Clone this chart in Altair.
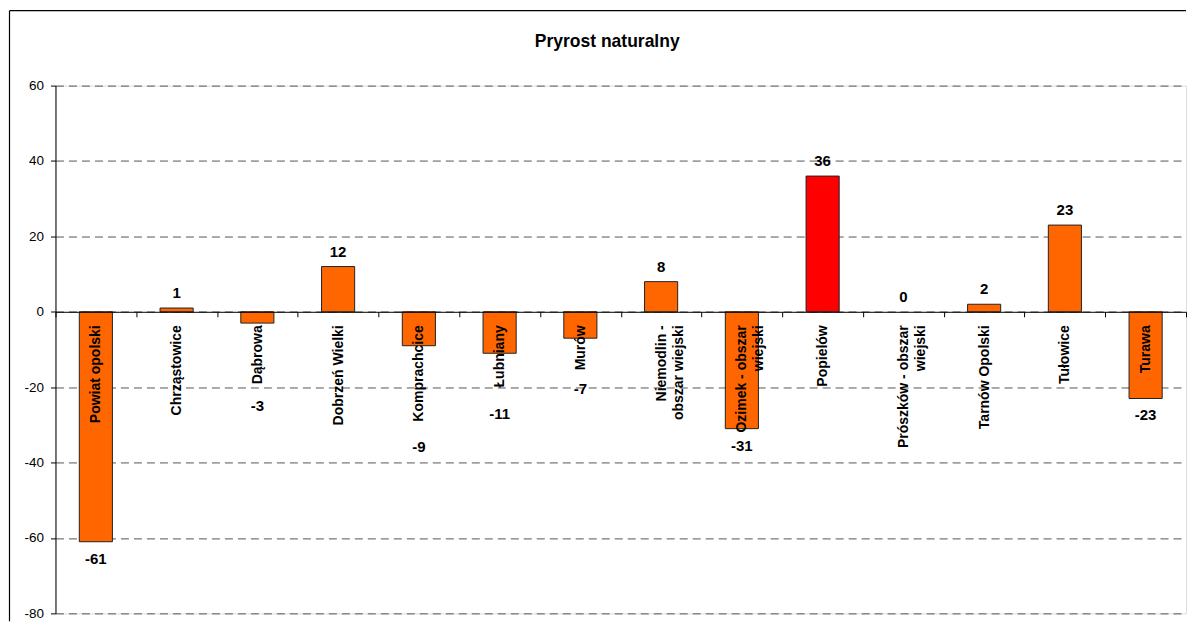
import altair as alt
import pandas as pd

# ---- data ----
gminy = [
    "Powiat opolski", "Chrząstowice", "Dąbrowa", "Dobrzeń Wielki",
    "Komprachcice", "Łubniany", "Murów", "Niemodlin -\nobszar wiejski",
    "Ozimek - obszar\nwiejski", "Popielów", "Prószków - obszar\nwiejski",
    "Tarnów Opolski", "Tułowice", "Turawa",
]
przyrost = [-61, 1, -3, 12, -9, -11, -7, 8, -31, 36, 0, 2, 23, -23]
y_ticks = [-80, -60, -40, -20, 0, 20, 40, 60]
title_text = "Pryrost naturalny"
highlight = "Popielów"

# ---- layout ----
W, H = 1131, 528
YMIN, YMAX = -80, 60
K = H / (YMAX - YMIN)          # pixels per unit
FONT = "Liberation Sans"

df = pd.DataFrame({"gmina": gminy, "v": przyrost})

x_enc = alt.X(
    "gmina:N", sort=gminy,
    scale=alt.Scale(paddingInner=0, paddingOuter=0),
    axis=alt.Axis(
        title=None, labelAngle=-90, labelAlign="right", labelBaseline="middle",
        labelExpr="split(datum.label, '\\n')", labelLineHeight=17,
        labelFont=FONT, labelFontSize=14, labelFontWeight="bold", labelColor="black",
        labelPadding=8, tickSize=5, tickColor="black", tickBand="extent",
        domainColor="black", domainWidth=1, offset=-(H * (0 - YMIN) / (YMAX - YMIN)),
        labelLimit=300, zindex=2,
    ),
)

y_scale = alt.Scale(domain=[YMIN, YMAX], nice=False)
y_axis = alt.Axis(
    values=y_ticks, title=None, grid=True, gridDash=[8, 5], gridColor="#555555",
    gridWidth=1, domainColor="black", tickColor="black", tickSize=5,
    labelExpr="toString(datum.value)",
    labelPadding=7, labelFont=FONT, labelFontSize=13.5, labelColor="black", zindex=0,
)

bars = alt.Chart(df).transform_filter("datum.v != 0").mark_bar(
    width=alt.RelativeBandSize(0.41), stroke="#222222", strokeWidth=1
).encode(
    x=x_enc,
    y=alt.Y("v:Q", scale=y_scale, axis=y_axis),
    color=alt.condition(alt.datum.gmina == highlight, alt.value("#FF0000"), alt.value("#FF6600")),
)

pos_labels = alt.Chart(df).transform_filter("datum.v >= 0").transform_calculate(
    lbl="toString(datum.v)"
).mark_text(
    font=FONT, fontSize=15, fontWeight="bold", color="black",
    baseline="alphabetic", dy=-10,
).encode(
    x=x_enc,
    y=alt.Y("v:Q", scale=y_scale, axis=y_axis),
    text="lbl:N",
)

# labels of short negative bars are moved below the category name
neg_labels = alt.Chart(df).transform_filter("datum.v < 0").transform_calculate(
    ly=f"datum.v > -15 ? -(19 + 8.3 * length(datum.gmina)) / {K} : datum.v",
    lbl="toString(datum.v)",
).mark_text(
    font=FONT, fontSize=15, fontWeight="bold", color="black",
    baseline="top", dy=10,
).encode(
    x=x_enc,
    y=alt.Y("ly:Q", scale=y_scale, axis=y_axis),
    text="lbl:N",
)

one = pd.DataFrame({"t": [title_text]})
title = alt.Chart(one).mark_text(
    font=FONT, fontSize=17.5, fontWeight="bold", color="black",
    align="center", baseline="alphabetic",
).encode(x=alt.value(552), y=alt.value(-39), text="t:N")

border_top = alt.Chart(one).mark_rule(color="black", strokeWidth=1.2).encode(
    x=alt.value(-46), x2=alt.value(W), y=alt.value(-75)
)
border_left = alt.Chart(one).mark_rule(color="black", strokeWidth=1.2).encode(
    x=alt.value(-46), y=alt.value(-75), y2=alt.value(H + 8)
)

chart = alt.layer(bars, pos_labels, neg_labels, title, border_top, border_left).properties(
    width=W, height=H,
    padding={"left": 0.5, "top": 1.5, "right": 0, "bottom": 0},
).configure_view(stroke=None).configure(font=FONT)

chart.save("out.html", embed_options={"renderer": "svg", "actions": False})
